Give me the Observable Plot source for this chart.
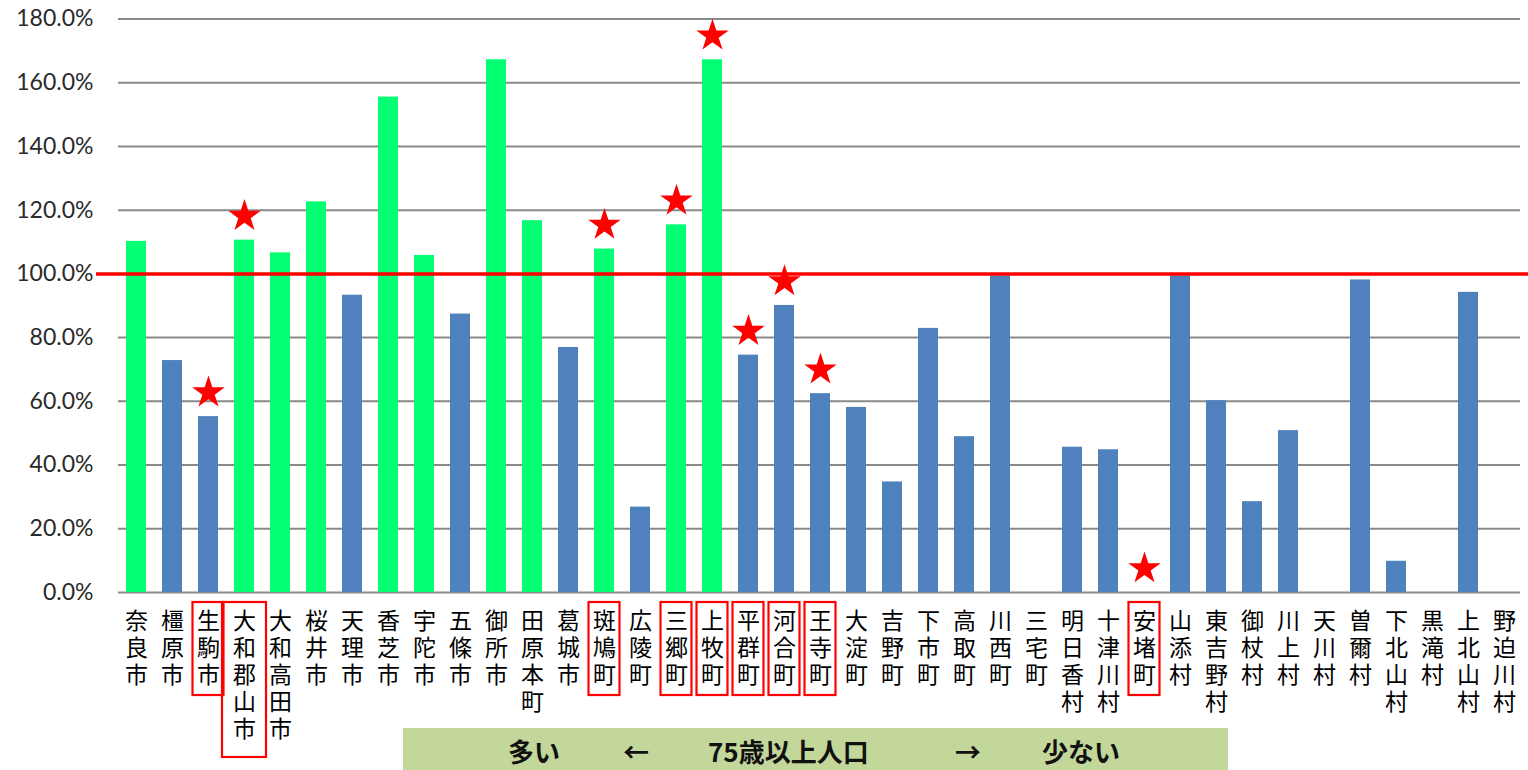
<!DOCTYPE html>
<html>
<head>
<meta charset="utf-8">
<script src="https://cdn.jsdelivr.net/npm/d3@7"></script>
<script src="https://cdn.jsdelivr.net/npm/@observablehq/plot@0.6"></script>
<style>
  html, body { margin: 0; padding: 0; background: #fff; }
  #wrap { position: relative; width: 1528px; height: 770px; overflow: hidden; }
  #banner { position: absolute; left: 403px; top: 728px; width: 825px; height: 42px; background: #C4D79B;
            font-family: "Noto Sans CJK JP", sans-serif; font-weight: bold; font-size: 26px; line-height: 26px; color: #111; }
  #banner span { position: absolute; top: 10px; white-space: nowrap; }
  .vlabel text { writing-mode: vertical-rl; text-orientation: upright; letter-spacing: 4px; }
</style>
</head>
<body>
<div id="wrap"></div>
<script>
// Municipalities (ordered by 75+ population, many → few)
const names = ["奈良市","橿原市","生駒市","大和郡山市","大和高田市","桜井市","天理市","香芝市","宇陀市","五條市",
  "御所市","田原本町","葛城市","斑鳩町","広陵町","三郷町","上牧町","平群町","河合町","王寺町",
  "大淀町","吉野町","下市町","高取町","川西町","三宅町","明日香村","十津川村","安堵町","山添村",
  "東吉野村","御杖村","川上村","天川村","曽爾村","下北山村","黒滝村","上北山村","野迫川村"];
// Ratio (%)
const values = [110.2, 72.8, 55.2, 110.6, 106.6, 122.6, 93.3, 155.5, 105.8, 87.4,
  167.2, 116.7, 76.9, 107.8, 26.8, 115.4, 167.2, 74.5, 90.1, 62.4,
  58.1, 34.7, 82.9, 48.9, 99.4, 0, 45.6, 44.8, 0, 99.4,
  60.2, 28.5, 50.8, 0, 98.1, 9.8, 0, 94.2, 0];
// Highlighted (boxed + star) municipalities
const highlighted = ["生駒市","大和郡山市","斑鳩町","三郷町","上牧町","平群町","河合町","王寺町","安堵町"];
const yTicks = [0, 20, 40, 60, 80, 100, 120, 140, 160, 180];
const threshold = 100;
const bannerParts = ["多い", "←", "75歳以上人口", "→", "少ない"];

const GREEN = "#05FF74", BLUE = "#4F81BD", RED = "#FF0000";
const data = names.map((n, i) => ({name: n, value: values[i], hl: highlighted.includes(n)}));

const boxMark = (index, scales, values_, dims) => {
  const g = d3.create("svg:g");
  const bw = scales.x.bandwidth ? scales.x.bandwidth() : 20;
  const top = dims.height - dims.marginBottom + 10;
  for (const d of data.filter(d => d.hl)) {
    const n = d.name.length;
    const w = n > 4 ? 44 : 31;
    const cx = scales.x(d.name) + bw / 2;
    g.append("rect").attr("x", cx - w / 2).attr("y", top).attr("width", w).attr("height", n * 31)
      .attr("fill", "none").attr("stroke", RED).attr("stroke-width", 2.2);
  }
  return g.node();
};

const chart = Plot.plot({
  width: 1528,
  height: 770,
  marginTop: 18.5,
  marginBottom: 178,
  marginLeft: 96,
  marginRight: 5,
  x: {domain: names, paddingInner: 0.44, paddingOuter: 0.22, insetLeft: 22, axis: null},
  y: {domain: [0, 180], ticks: yTicks, axis: null},
  color: {type: "identity"},
  style: {background: "#fff"},
  marks: [
    Plot.ruleY(yTicks, {stroke: "#8a8a8a", strokeWidth: 2, insetLeft: 22, insetRight: 3}),
    Plot.barY(data, {x: "name", y: "value", fill: d => d.value >= threshold ? GREEN : BLUE}),
    Plot.ruleY([threshold], {stroke: RED, strokeWidth: 3.5, insetRight: -5}),
    Plot.axisY({ticks: yTicks, tickSize: 0, tickPadding: 3, tickFormat: d => d.toFixed(1) + "%",
      fontSize: 23, fontFamily: "Lato, 'Open Sans', sans-serif", label: null, color: "#2a2a2a"}),
    Plot.text(data, {x: "name", text: "name", frameAnchor: "bottom", textAnchor: "start",
      dy: 16, fontSize: 23, fill: "#000", className: "vlabel",
      fontFamily: "'Noto Sans CJK JP', sans-serif"}),
    boxMark,
    Plot.dot(data.filter(d => d.hl), {x: "name", y: "value", symbol: "star", r: 10.2, fill: RED, stroke: "none", dy: -24})
  ]
});

chart.querySelectorAll(".vlabel text").forEach(t => t.removeAttribute("dy"));

const wrap = document.getElementById("wrap");
wrap.appendChild(chart);
const banner = document.createElement("div");
banner.id = "banner";
const lefts = [105, 220, 305, 552, 639];
bannerParts.forEach((t, i) => {
  const s = document.createElement("span");
  s.textContent = t;
  s.style.left = lefts[i] + "px";
  banner.appendChild(s);
});
wrap.appendChild(banner);
</script>
</body>
</html>
